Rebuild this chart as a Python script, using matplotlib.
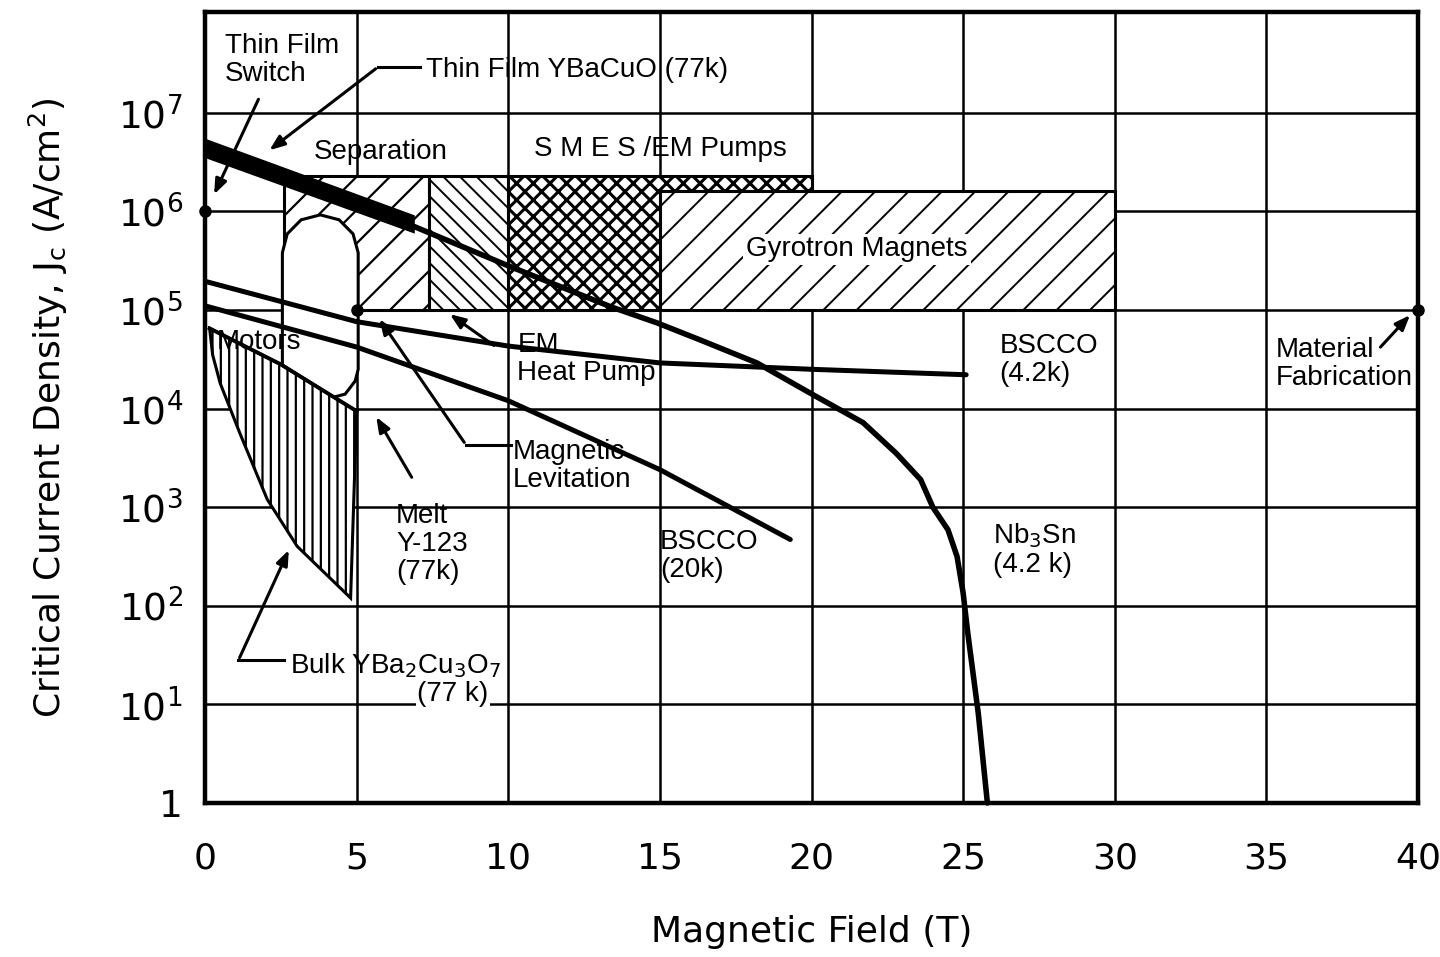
import matplotlib
matplotlib.use("Agg")
import matplotlib.pyplot as plt

plt.rcParams['font.family'] = ['DejaVu Sans']
plt.rcParams['hatch.linewidth'] = 1.6
plt.rcParams['mathtext.fontset'] = 'dejavusans'

LABEL_FONT = ['Liberation Sans', 'DejaVu Sans']

# --- curves (field in T, Jc in A/cm^2) ---
bscco42_field = [0, 5, 10, 15, 20, 25.1]
bscco42_jc = [1.95e5, 7.6e4, 4.3e4, 2.9e4, 2.5e4, 2.2e4]

bscco20_field = [0, 5, 10, 15, 19.3]
bscco20_jc = [1.1e5, 4.2e4, 1.2e4, 2.4e3, 470]

nb3sn_field = [6.9, 10, 13.4, 14.9, 16.3, 18.2, 20.2, 21.7, 22.8, 23.6, 24.0, 24.5, 24.8, 25.0, 25.15, 25.5, 25.8]
nb3sn_jc = [7e5, 2.8e5, 1.07e5, 7.4e4, 5.0e4, 2.9e4, 1.3e4, 7.2e3, 3.5e3, 1.9e3, 1e3, 590, 316, 135, 54, 8.1, 1]

# thin film YBaCuO band: upper / lower edge
film_field = [0, 6.9]
film_upper = [5.5e6, 9.2e5]
film_lower = [3.5e6, 6.0e5]

# melt Y-123 (top edge) and bulk YBa2Cu3O7 (bottom edge) of hatched area
melt_field = [0.15, 2.5, 5.0]
melt_jc = [6.5e4, 2.8e4, 9.4e3]
bulk_field = [4.8, 3.04, 2.05, 1.15, 0.5, 0.25, 0.15]
bulk_jc = [120, 400, 1.2e3, 5.6e3, 1.8e4, 3.5e4, 6.5e4]

# application regions
sep_a_field = [2.6, 7.4]
sep_b_field = [7.4, 10]
sep_jc = [1e5, 2.3e6]
smes_field = [10, 15, 15, 20, 20, 10]
smes_jc = [1e5, 1e5, 1.6e6, 1.6e6, 2.3e6, 2.3e6]
gyro_field = [15, 30]
gyro_jc = [1e5, 1.6e6]
motors_field = [2.55, 2.55, 2.71, 3.17, 3.80, 4.42, 4.88, 5.05, 5.05, 4.95, 4.62, 4.22, 2.55]
motors_jc = [2.76e4, 3.8e5, 5.9e5, 8.2e5, 9.2e5, 8.2e5, 5.9e5, 3.8e5, 2.5e4, 1.9e4, 1.4e4, 1.3e4, 2.76e4]

dot_field = [0, 5, 40]
dot_jc = [1e6, 1e5, 1e5]

x_ticks = [0, 5, 10, 15, 20, 25, 30, 35, 40]
y_ticks = [1, 1e1, 1e2, 1e3, 1e4, 1e5, 1e6, 1e7]
y_ticklabels = ['1', '$10^1$', '$10^2$', '$10^3$', '$10^4$', '$10^5$', '$10^6$', '$10^7$']

fig = plt.figure(figsize=(14.4, 9.57), dpi=100)
ax = fig.add_axes([0.1424, 0.1609, 0.8423, 0.8266])
ax.set_yscale('log')
ax.set_xlim(0, 40)
ax.set_ylim(1, 1.05e8)

ax.set_xticks(x_ticks)
ax.set_xticklabels([str(t) for t in x_ticks], fontsize=26)
ax.set_yticks(y_ticks)
ax.set_yticklabels(y_ticklabels, fontsize=27)
ax.minorticks_off()
ax.tick_params(length=0)
ax.tick_params(axis='x', pad=28)
ax.tick_params(axis='y', pad=16)
ax.grid(True, color='black', lw=1.8)
ax.set_axisbelow(True)
for s in ax.spines.values():
    s.set_linewidth(3.2)

ax.set_xlabel('Magnetic Field (T)', fontsize=26, labelpad=28)
ax.set_ylabel(r'Critical Current Density, J$_\mathregular{c}$ (A/cm$^2$)', fontsize=26, labelpad=34)


def region(xs, ys, hatch, hw=1.6, z=1.5):
    p = ax.fill(xs, ys, facecolor='white', edgecolor='black', lw=2.2, hatch=hatch, zorder=z)[0]
    try:
        p.set_hatch_linewidth(hw)
    except AttributeError:
        pass
    return p


def box(xr, yr, hatch, hw=1.6, z=1.5):
    return region([xr[0], xr[1], xr[1], xr[0]], [yr[0], yr[0], yr[1], yr[1]], hatch, hw, z)


box(sep_a_field, sep_jc, '/', 1.6)
box(sep_b_field, sep_jc, '\\\\', 1.4)
region(smes_field, smes_jc, 'xx', 2.2)
box(gyro_field, gyro_jc, '/', 1.4)
region(motors_field, motors_jc, None, z=1.6)
region(melt_field + bulk_field, melt_jc + bulk_jc, '||', 1.6, z=1.7)

# curves
ax.fill_between(film_field, film_lower, film_upper, color='black', lw=0, zorder=3)
ax.plot(bscco42_field, bscco42_jc, color='black', lw=3.6, zorder=3, solid_capstyle='round')
ax.plot(bscco20_field, bscco20_jc, color='black', lw=3.6, zorder=3, solid_capstyle='round')
ax.plot(nb3sn_field, nb3sn_jc, color='black', lw=4.0, zorder=3, solid_capstyle='round', clip_on=False)
ax.plot(melt_field, melt_jc, color='black', lw=2.8, zorder=3)
ax.plot(dot_field, dot_jc, 'o', color='black', ms=8, zorder=5, clip_on=False)

# labels
txt = dict(fontsize=20, family=LABEL_FONT, zorder=6, linespacing=1.1)
ax.text(0.66, 3.4e7, 'Thin Film\nSwitch', ha='left', va='center', **txt)
ax.text(7.3, 2.7e7, 'Thin Film YBaCuO (77k)', ha='left', va='center', **txt)
ax.text(5.8, 4.0e6, 'Separation', ha='center', va='center', **txt)
ax.text(15.0, 4.3e6, 'S M E S /EM Pumps', ha='center', va='center', **txt)
ax.text(21.5, 4.1e5, 'Gyrotron Magnets', ha='center', va='center',
        bbox=dict(facecolor='white', edgecolor='none', pad=2), **txt)
ax.text(0.4, 4.7e4, 'Motors', ha='left', va='center', **txt)
ax.text(10.3, 3.2e4, 'EM\nHeat Pump', ha='left', va='center', **txt)
ax.text(10.15, 2.6e3, 'Magnetic\nLevitation', ha='left', va='center', **txt)
ax.text(6.3, 420, 'Melt\nY-123\n(77k)', ha='left', va='center', **txt)
ax.text(15.0, 316, 'BSCCO\n(20k)', ha='left', va='center', **txt)
ax.text(26.0, 370, 'Nb$_3$Sn\n(4.2 k)', ha='left', va='center', **txt)
ax.text(26.2, 3.1e4, 'BSCCO\n(4.2k)', ha='left', va='center', **txt)
ax.text(35.3, 2.8e4, 'Material\nFabrication', ha='left', va='center', **txt)
ax.text(2.8, 25, 'Bulk YBa$_2$Cu$_3$O$_7$', ha='left', va='center', **txt)
ax.text(7.0, 12.6, '(77 k)', ha='left', va='center',
        bbox=dict(facecolor='white', edgecolor='none', pad=1), **txt)

# arrows
arr = dict(arrowstyle='-|>,head_length=0.9,head_width=0.35', color='black', lw=2.2)
ax.plot([7.1, 5.7], [2.9e7, 2.9e7], color='black', lw=2.2, zorder=4)
ax.annotate('', xy=(2.05, 4e6), xytext=(5.7, 2.9e7), arrowprops=arr, zorder=4)
ax.annotate('', xy=(0.26, 1.4e6), xytext=(1.8, 1.45e7), arrowprops=arr, zorder=4)
ax.annotate('', xy=(8.0, 9.4e4), xytext=(9.6, 4.2e4), arrowprops=arr, zorder=4)
ax.plot([10.1, 8.6], [4.3e3, 4.3e3], color='black', lw=2.2, zorder=4)
ax.annotate('', xy=(5.7, 8.5e4), xytext=(8.6, 4.3e3), arrowprops=arr, zorder=4)
ax.annotate('', xy=(5.6, 8.7e3), xytext=(6.86, 1.9e3), arrowprops=arr, zorder=4)
ax.plot([2.6, 1.1], [28, 28], color='black', lw=2.2, zorder=4)
ax.annotate('', xy=(2.8, 390), xytext=(1.1, 28), arrowprops=arr, zorder=4)
ax.annotate('', xy=(39.8, 9.3e4), xytext=(38.7, 4e4), arrowprops=arr, zorder=4)

fig.savefig('out.png', dpi=100)
